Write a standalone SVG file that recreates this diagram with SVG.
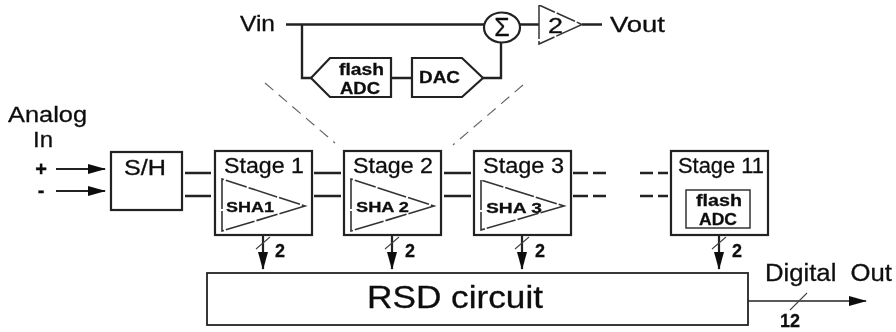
<svg xmlns="http://www.w3.org/2000/svg" width="896" height="332" viewBox="0 0 896 332">
<style>
text{font-family:"Liberation Sans",Arial,sans-serif;fill:#111;stroke:#111;stroke-width:.3}
.n{font-size:22px}
.s{font-size:15px;font-weight:bold}
.m{font-size:16.500px;font-weight:bold}
.c{font-size:18px;font-weight:bold}
.box{fill:#fff;stroke:#222;stroke-width:2.2}
.thin{fill:#fff;stroke:#333;stroke-width:1.5}
.tri{fill:none;stroke:#333;stroke-width:1.6;stroke-dasharray:30 2 22 2}
.w{fill:none;stroke:#222;stroke-width:2.4}
.a{fill:none;stroke:#222;stroke-width:2.2}
.t{fill:none;stroke:#444;stroke-width:1.1}
.d{fill:none;stroke:#666;stroke-width:1.2;stroke-dasharray:11 7}
</style>
<defs>
<marker id="ah" markerUnits="userSpaceOnUse" markerWidth="18" markerHeight="12" refX="17" refY="6" orient="auto"><path d="M0 1L18 6L0 11Z" fill="#111"/></marker>
<filter id="soft" x="0" y="0" width="100%" height="100%"><feGaussianBlur stdDeviation="0.45"/></filter>
</defs>
<rect width="896" height="332" fill="#fff"/>
<g filter="url(#soft)">
<g id="connectors">
<path class="w" d="M286 24.500H484M302 24.500V78H312M391 78H412M483 78H501V42M520 24.500H539M582 24.500H602"/>
<path class="d" d="M265 83L335 143M523 85L453 145"/>
<path class="a" d="M56 169H105" marker-end="url(#ah)"/>
<path class="a" d="M56 191H105" marker-end="url(#ah)"/>
<path class="w" d="M185 173H211M185 196H211M314 173H341M314 196H341M444 173H471M444 196H471M573 173H588M573 196H588M593 173H606M593 196H606M640 173H653M640 196H653M658 173H668M658 196H668"/>
<path class="a" d="M263 235V269" marker-end="url(#ah)"/>
<path class="a" d="M392 235V269" marker-end="url(#ah)"/>
<path class="a" d="M522 235V269" marker-end="url(#ah)"/>
<path class="a" d="M719 235V269" marker-end="url(#ah)"/>
<path class="t" d="M256 249L270 237M385 249L399 237M515 249L529 237M712 249L726 237"/>
<path d="M748 301H866" fill="none" stroke="#222" stroke-width="1.6" marker-end="url(#ah)"/>
<path class="t" d="M807 293L790 310"/>
</g>
<g id="vin"><text class="n" x="240" y="31" textLength="35" lengthAdjust="spacingAndGlyphs">Vin</text></g>
<g id="sum"><ellipse class="box" cx="502" cy="27.500" rx="18" ry="15"/><text x="502" y="36" font-size="25" text-anchor="middle">Σ</text></g>
<g id="gain2"><path class="thin" d="M539 5V44L582 24.500Z" stroke-dasharray="34 2 20 2"/><text x="548" y="33" font-size="22" textLength="15" lengthAdjust="spacingAndGlyphs">2</text></g>
<g id="vout"><text class="n" x="610" y="32" textLength="55" lengthAdjust="spacingAndGlyphs">Vout</text></g>
<g id="flash-adc"><path class="box" d="M311 78L330 58H391V97H330Z"/><text class="m" x="339" y="75" textLength="45" lengthAdjust="spacingAndGlyphs">flash</text><text class="m" x="340" y="94" textLength="40" lengthAdjust="spacingAndGlyphs">ADC</text></g>
<g id="dac"><path class="box" d="M412 58H462L483 78L462 97H412Z"/><text class="m" x="419" y="83" textLength="41" lengthAdjust="spacingAndGlyphs">DAC</text></g>
<g id="analog-in"><text class="n" x="8" y="122" textLength="79" lengthAdjust="spacingAndGlyphs">Analog</text><text class="n" x="33" y="147" textLength="20" lengthAdjust="spacingAndGlyphs">In</text></g>
<g id="plus"><text x="41" y="176" font-size="20" font-weight="bold" text-anchor="middle">+</text></g>
<g id="minus"><text x="41" y="197" font-size="20" font-weight="bold" text-anchor="middle">-</text></g>
<g id="sh"><rect class="box" x="111" y="152" width="71" height="58"/><text class="n" x="124" y="175" textLength="42" lengthAdjust="spacingAndGlyphs">S/H</text></g>
<g id="stage1"><rect class="box" x="215" y="151" width="97" height="84"/><text class="n" x="224" y="173" textLength="80" lengthAdjust="spacingAndGlyphs">Stage 1</text><path class="tri" d="M222 179V231L305 206Z"/><text class="s" x="226" y="212" textLength="48" lengthAdjust="spacingAndGlyphs">SHA1</text></g>
<g id="stage2"><rect class="box" x="344" y="151" width="97" height="84"/><text class="n" x="353" y="173" textLength="80" lengthAdjust="spacingAndGlyphs">Stage 2</text><path class="tri" d="M351 179V231L434 206Z"/><text class="s" x="356" y="212" textLength="53" lengthAdjust="spacingAndGlyphs">SHA 2</text></g>
<g id="stage3"><rect class="box" x="474" y="151" width="97" height="84"/><text class="n" x="483" y="173" textLength="81" lengthAdjust="spacingAndGlyphs">Stage 3</text><path class="tri" d="M481 180V230L564 206Z"/><text class="s" x="486" y="213" textLength="56" lengthAdjust="spacingAndGlyphs">SHA 3</text></g>
<g id="stage11"><rect class="box" x="671" y="151" width="97" height="84"/><text class="n" x="678" y="173" textLength="86" lengthAdjust="spacingAndGlyphs">Stage 11</text><rect class="thin" x="686" y="190" width="64" height="38"/><text class="m" x="696" y="206" textLength="46" lengthAdjust="spacingAndGlyphs">flash</text><text class="m" x="699" y="225" textLength="38" lengthAdjust="spacingAndGlyphs">ADC</text></g>
<g id="rsd"><rect x="207" y="273" width="541" height="52" fill="#fff" stroke="#222" stroke-width="1.8"/><text x="367" y="308" font-size="31" textLength="176" lengthAdjust="spacingAndGlyphs">RSD circuit</text></g>
<g id="labels">
<text class="c" x="275" y="257">2</text><text class="c" x="405" y="257">2</text><text class="c" x="535" y="257">2</text><text class="c" x="732" y="257">2</text>
<text class="c" x="780" y="327" textLength="20">12</text>
<text x="765" y="281" font-size="23" textLength="127" lengthAdjust="spacingAndGlyphs" xml:space="preserve">Digital  Out</text>
</g>
</g>
</svg>
